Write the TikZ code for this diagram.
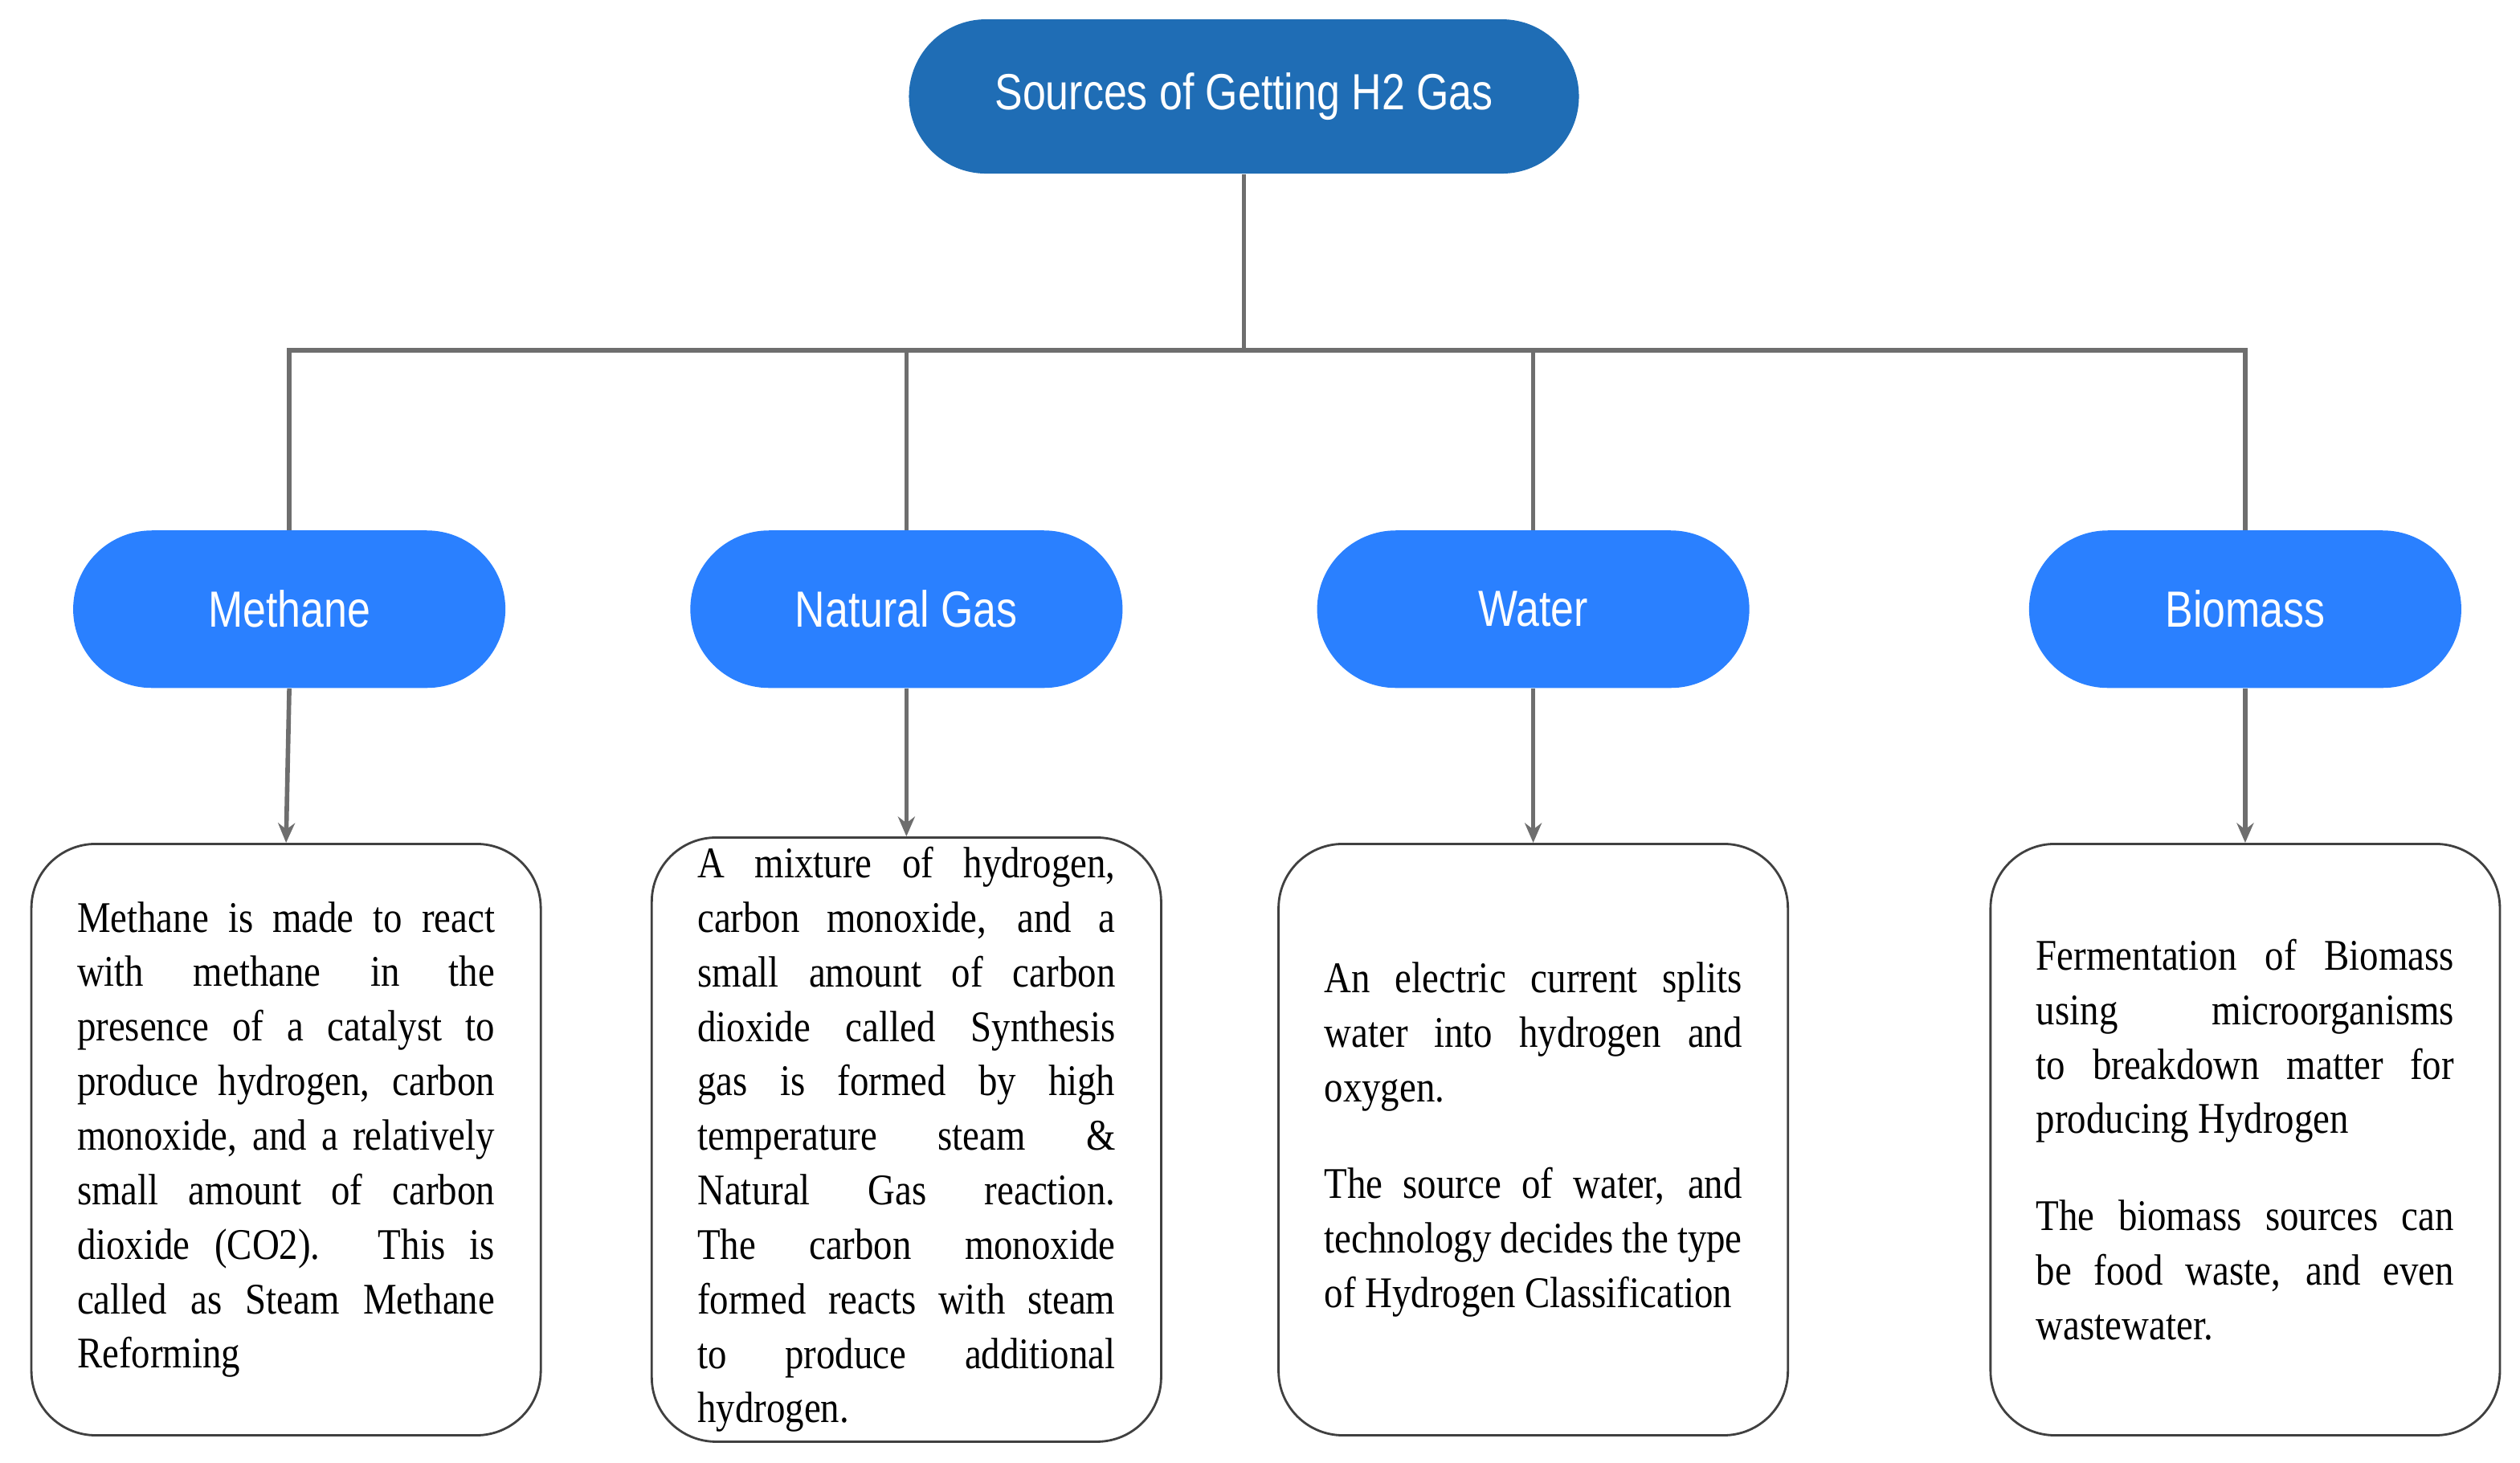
\documentclass[tikz,border=0pt]{standalone}
\usepackage{fontspec}
\setmainfont{Liberation Serif}[FakeStretch=0.86]
\newfontfamily\hsans{Liberation Sans}[FakeStretch=0.82]
\usetikzlibrary{arrows.meta}
\definecolor{topblue}{HTML}{1F6DB5}
\definecolor{midblue}{HTML}{2A80FF}
\definecolor{linegray}{HTML}{6E6E6E}
\newcommand\myNoHyph{\hyphenpenalty=10000\relax\exhyphenpenalty=10000\relax}
\begin{document}
\begin{tikzpicture}[x=0.02cm,y=-0.02cm,
 pill/.style={rounded corners=0.98cm,minimum width=5.38cm,minimum height=1.96cm,text=white,font=\hsans\fontsize{18}{20}\selectfont},
 desc/.style={draw=black!75,line width=0.8pt,rounded corners=0.8cm,minimum width=6.34cm,minimum height=7.36cm,text width=5.2cm,align=justify,font=\fontsize{15.5}{19.3}\selectfont\myNoHyph},
 conn/.style={draw=linegray,line width=1.6pt},
 arr/.style={conn,-{Stealth[length=7pt,width=6pt]}}]
\useasboundingbox (0,0) rectangle (1568,910);
\node[pill,fill=topblue,minimum width=8.34cm,rounded corners=0.96cm,minimum height=1.92cm] (top) at (774,60) {Sources of Getting H2 Gas};
\node[pill,fill=midblue] (m) at (180,379) {Methane};
\node[pill,fill=midblue] (n) at (564,379) {Natural Gas};
\node[pill,fill=midblue] (w) at (954,379) {Water};
\node[pill,fill=midblue] (b) at (1397,379) {Biomass};
\coordinate (j) at (774,218);
\draw[conn] (top.south) -- (j);
\draw[conn] (m.north) |- (b.north |- j) -- (b.north);
\draw[conn] (n.north) -- (n.north |- j);
\draw[conn] (w.north) -- (w.north |- j);
\node[desc] (dm) at (178,709) {Methane is made to react with methane in the presence of a catalyst to produce hydrogen, carbon monoxide, and a relatively small amount of carbon dioxide (CO2). This is called as Steam Methane Reforming};
\node[desc] (dn) at (564,709) {A mixture of hydrogen, carbon monoxide, and a small amount of carbon dioxide called Synthesis gas is formed by high temperature steam \& Natural Gas reaction. The carbon monoxide formed reacts with steam to produce additional hydrogen.};
\node[desc] (dw) at (954,709) {An electric current splits water into hydrogen and oxygen.\par\vspace{15pt}The source of water, and technology decides the type of Hydrogen Classification\par\vspace{50pt}};
\node[desc] (db) at (1397,709) {Fermentation of Biomass using microorganisms to breakdown matter for producing Hydrogen\par\vspace{15pt}The biomass sources can be food waste, and even wastewater.\par\vspace{55pt}};
\draw[arr] (m.south) -- (dm.north);
\draw[arr] (n.south) -- (dn.north);
\draw[arr] (w.south) -- (dw.north);
\draw[arr] (b.south) -- (db.north);
\end{tikzpicture}
\end{document}
